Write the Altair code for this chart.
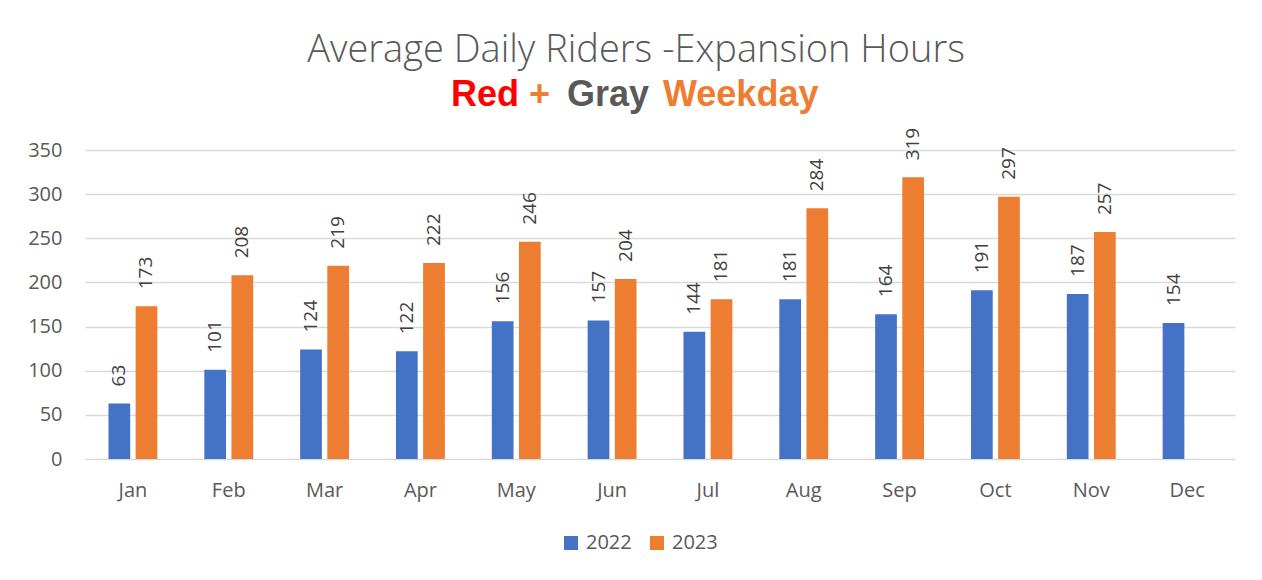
import altair as alt
import pandas as pd

months = ["Jan", "Feb", "Mar", "Apr", "May", "Jun", "Jul", "Aug", "Sep", "Oct", "Nov", "Dec"]
riders_2022 = [63, 101, 124, 122, 156, 157, 144, 181, 164, 191, 187, 154]
riders_2023 = [173, 208, 219, 222, 246, 204, 181, 284, 319, 297, 257, None]
years = ["2022", "2023"]
year_colors = ["#4472C4", "#ED7D31"]
y_ticks = [0, 50, 100, 150, 200, 250, 300, 350]
title_text = "Average Daily Riders -Expansion Hours"
sub_words = ["Red", "+", "Gray", "Weekday"]
sub_colors = ["#FF0000", "#ED7D31", "#595959", "#ED7D31"]

rows = []
for m, a, b in zip(months, riders_2022, riders_2023):
    rows.append({"month": m, "year": "2022", "value": a})
    if b is not None:
        rows.append({"month": m, "year": "2023", "value": b})
df = pd.DataFrame(rows)

W, H = 1150, 309
PAD = {"left": 77, "top": 142, "right": 19, "bottom": 100}
FONT = "Open Sans"
GRAY = "#595959"

base = alt.Chart(df).encode(
    x=alt.X(
        "month:N",
        sort=months,
        scale=alt.Scale(paddingInner=0.49, paddingOuter=0.245),
        axis=alt.Axis(
            title=None, labelAngle=0, labelFontSize=20, labelColor=GRAY,
            labelFont=FONT, labelPadding=21, ticks=False, domain=False, grid=False,
        ),
    ),
    xOffset=alt.XOffset("year:N", sort=years, scale=alt.Scale(paddingInner=0.2, paddingOuter=0)),
    y=alt.Y(
        "value:Q",
        scale=alt.Scale(domain=[0, 350], nice=False),
        axis=alt.Axis(
            values=y_ticks, title=None, grid=True, gridColor="#D9D9D9", gridWidth=1.3,
            domain=False, ticks=False, labelPadding=23, labelFontSize=20,
            labelColor=GRAY, labelFont=FONT,
        ),
    ),
)

bars = base.mark_bar().encode(
    color=alt.Color(
        "year:N",
        scale=alt.Scale(domain=years, range=year_colors),
        legend=alt.Legend(
            orient="none", legendX=476, legendY=383, direction="horizontal",
            title=None, symbolType="square", symbolSize=196, symbolStrokeWidth=0,
            labelFontSize=20, labelColor=GRAY, labelFont=FONT,
            columnPadding=15, labelOffset=5, padding=0,
        ),
    )
)

labels = base.mark_text(
    angle=270, align="left", baseline="middle", dx=17,
    fontSize=19, color="#404040", font=FONT,
).encode(text="value:Q")

one = pd.DataFrame({"t": [title_text]})
title_mark = alt.Chart(one).mark_text(
    align="center", baseline="alphabetic", fontSize=38, font=FONT,
    fontWeight=300, color=GRAY,
).encode(text="t:N", x=alt.value(551), y=alt.value(-88))

sub_positions = [366, 444, 482, 578]
sub_layers = []
for w, c, px in zip(sub_words, sub_colors, sub_positions):
    sub_layers.append(
        alt.Chart(pd.DataFrame({"t": [w]})).mark_text(
            align="left", baseline="alphabetic", fontSize=36,
            font="Liberation Sans", fontWeight="bold", color=c,
        ).encode(text="t:N", x=alt.value(px), y=alt.value(-44))
    )

chart = alt.layer(
    title_mark, *sub_layers, bars, labels
).properties(
    width=W, height=H,
    padding=PAD,
    autosize=alt.AutoSizeParams(type="none"),
).configure_view(stroke=None)

chart.save("out.html", embed_options={"renderer": "svg", "actions": False})
